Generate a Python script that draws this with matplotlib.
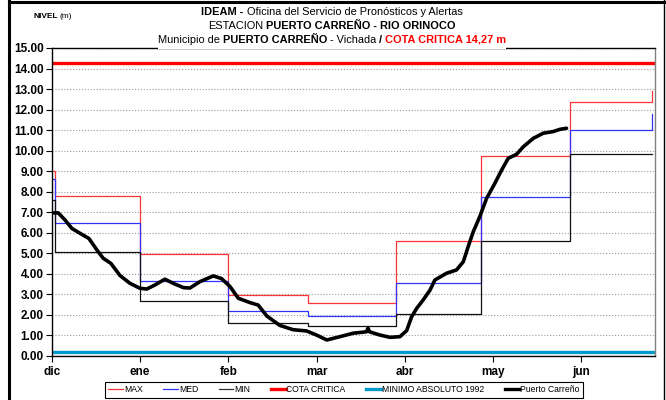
import matplotlib
matplotlib.use("Agg")
import matplotlib.pyplot as plt
import matplotlib.font_manager as fm
from matplotlib.lines import Line2D
from matplotlib.patches import Rectangle

# days counted from 1 December; month starts
month_days = [0, 31, 62, 90, 121, 151, 182, 211]
tick_days = [0, 31, 62, 93, 124, 155, 186]
tick_labels = ["dic", "ene", "feb", "mar", "abr", "may", "jun"]

# historical monthly levels (m)
max_levels = [9.0, 7.8, 4.97, 2.95, 2.58, 5.62, 9.72, 12.35, 12.9]
med_levels = [8.6, 6.5, 3.65, 2.21, 1.93, 3.54, 7.76, 11.01, 11.8]
min_levels = [7.6, 5.08, 2.66, 1.59, 1.46, 2.05, 5.62, 9.82, 9.82]
step_days = [0, 1] + month_days[1:]

cota_critica = 14.27
minimo_1992 = 0.2

# observed level at Puerto Carreño
pc_days = [0, 2.2, 4.6, 7.0, 9.8, 13.0, 15.8, 18.0, 20.7, 23.9, 27.4, 30.9,
           33.3, 36.2, 39.7, 42.6, 46.2, 48.5, 52.0, 56.7, 59.6, 62.6, 65.5,
           69.6, 72.5, 75.5, 80.1, 84.8, 89.5, 93.0, 96.6, 101.2, 105.9,
           110.6, 111.1, 111.6, 115.3, 118.8, 122.3, 124.7, 126.4, 128.2,
           130.5, 132.9, 134.6, 138.7, 142.2, 144.6, 146.3, 148.1, 150.4,
           152.8, 155.7, 158.1, 160.4, 163.3, 165.7, 169.2, 172.7, 176.2,
           178.6, 180.9]
pc_level = [6.97, 6.97, 6.62, 6.21, 5.98, 5.72, 5.16, 4.76, 4.51, 3.92, 3.54,
            3.30, 3.26, 3.46, 3.74, 3.54, 3.33, 3.31, 3.62, 3.90, 3.77, 3.38,
            2.81, 2.60, 2.48, 1.95, 1.49, 1.28, 1.22, 1.02, 0.78, 0.94, 1.11,
            1.18, 1.36, 1.18, 1.02, 0.91, 0.94, 1.24, 1.90, 2.32, 2.73, 3.21,
            3.70, 4.03, 4.19, 4.59, 5.32, 6.05, 6.79, 7.68, 8.41, 9.06, 9.63,
            9.82, 10.19, 10.60, 10.85, 10.93, 11.04, 11.09]

names = {f.name for f in fm.fontManager.ttflist}
base = "Liberation Sans" if "Liberation Sans" in names else "DejaVu Sans"
plt.rcParams["font.family"] = base

W, H = 666, 400
fig = plt.figure(figsize=(W / 100, H / 100), dpi=100)
ax = fig.add_axes([52 / W, 44 / H, 603 / W, 308 / H])

ax.plot(step_days, max_levels, drawstyle="steps-post", color="#ff3333", lw=0.9)
ax.plot(step_days, med_levels, drawstyle="steps-post", color="#3333ff", lw=0.9)
ax.plot(step_days, min_levels, drawstyle="steps-post", color="#111111", lw=0.9)
ax.axhline(cota_critica, color="#ff0000", lw=2.4)
ax.axhline(minimo_1992, color="#0099cc", lw=2.4)
ax.plot(pc_days, pc_level, color="black", lw=2.6, solid_capstyle="round")

ax.set_xlim(0, 212)
ax.set_ylim(0, 15)
ax.set_yticks(range(0, 16))
ax.set_yticklabels([f"{v:.2f}" for v in range(0, 16)], fontsize=8.5,
                   fontweight="bold")
ax.set_xticks(tick_days)
ax.set_xticklabels(tick_labels, fontsize=8.5, fontweight="bold")
ax.tick_params(axis="y", length=4, width=0.8, pad=2)
ax.tick_params(axis="x", length=4, width=0.8, pad=3)
ax.grid(axis="y", color="#999999", ls=":", lw=0.8)
ax.set_axisbelow(True)
for s in ["left", "bottom", "top"]:
    ax.spines[s].set_color("black")
    ax.spines[s].set_linewidth(1.0)
ax.spines["right"].set_color("#808080")
ax.spines["right"].set_linewidth(1.0)

handles = [
    Line2D([], [], color="#ff3333", lw=0.9),
    Line2D([], [], color="#3333ff", lw=0.9),
    Line2D([], [], color="#333333", lw=0.9),
    Line2D([], [], color="#ff0000", lw=2.4),
    Line2D([], [], color="#0099cc", lw=2.4),
    Line2D([], [], color="black", lw=2.4),
]
labels = ["MAX", "MED", "MIN", "COTA CRITICA", "MINIMO ABSOLUTO 1992",
          "Puerto Carreño"]
leg = fig.legend(handles, labels, ncol=6, loc="center",
                 bbox_to_anchor=(344 / W, 1 - 390 / H),
                 prop={"size": 6.2}, frameon=True,
                 fancybox=False, edgecolor="black", framealpha=1,
                 handlelength=1.7, handletextpad=0.1, columnspacing=2.4,
                 borderpad=0.35)
leg.get_frame().set_linewidth(0.8)

# title block: white box hides the top spine behind the last line
fig.add_artist(Rectangle((158 / W, 1 - 49 / H), 348 / W, 16 / H,
                         transform=fig.transFigure, facecolor="white",
                         edgecolor="none", zorder=2))

renderer = fig.canvas.get_renderer()


def text_width(s, size):
    t = fig.text(0, 0, s, fontsize=size)
    w = t.get_window_extent(renderer).width
    t.remove()
    return w


def rich_line(y_px, parts, size, cx=332, align="center"):
    gap = text_width("x x", size) - text_width("xx", size)
    items = []
    for s, bold, col, space in parts:
        t = fig.text(0, 1 - y_px / H, s, fontsize=size,
                     fontweight="bold" if bold else "normal", color=col,
                     va="center", ha="left", zorder=3)
        w = t.get_window_extent(renderer).width
        items.append((t, w, space))
    total = sum(w for _, w, _ in items) + gap * sum(1 for *_, sp in items if sp)
    x = cx - total / 2 if align == "center" else cx
    for t, w, sp in items:
        t.set_x(x / W)
        x += w + (gap if sp else 0)


rich_line(12, [("IDEAM -", True, "black", True),
               ("Oficina del Servicio de Pronósticos y Alertas", False, "black", False)], 7.9)
rich_line(26, [("ESTACION", False, "black", True),
               ("PUERTO CARREÑO - RIO ORINOCO", True, "black", False)], 7.9)
rich_line(40, [("Municipio de", False, "black", True),
               ("PUERTO CARREÑO", True, "black", True),
               ("- Vichada", False, "black", True),
               ("/", True, "black", True),
               ("COTA CRITICA 14,27 m", True, "#ff0000", False)], 7.9)
rich_line(16, [("NIVEL", True, "black", True),
               ("(m)", False, "black", False)], 6.0, cx=33, align="left")

# outer frame
fig.add_artist(Line2D([9 / W, 9 / W], [0, 1], transform=fig.transFigure,
                      color="black", lw=2.2))
fig.add_artist(Line2D([9 / W, 1], [1 - 1.5 / H, 1 - 1.5 / H],
                      transform=fig.transFigure, color="black", lw=2.2))
fig.add_artist(Line2D([664 / W, 664 / W], [0, 1], transform=fig.transFigure,
                      color="black", lw=1.0))

fig.savefig("out.png", dpi=100)
